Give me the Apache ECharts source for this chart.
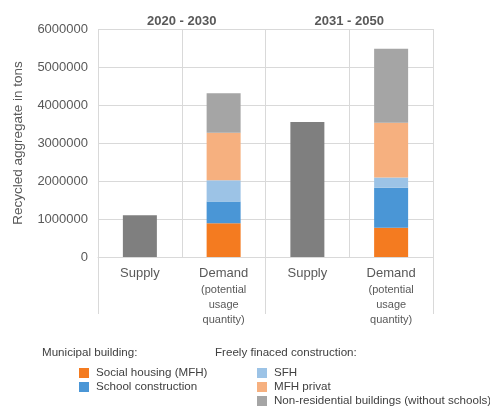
<!DOCTYPE html>
<html>
<head>
<meta charset="utf-8">
<script src="https://cdn.jsdelivr.net/npm/echarts@6/dist/echarts.min.js"></script>
<style>html,body{margin:0;padding:0;background:#fff}#c{width:490px;height:408px}</style>
</head>
<body>
<div id="c"></div>
<script>
const categories = ['Supply', 'Demand', 'Supply', 'Demand'];
const periods = ['2020 - 2030', '2031 - 2050'];
const yTicks = [0, 1000000, 2000000, 3000000, 4000000, 5000000, 6000000];
const supply = [1100000, '-', 3550000, '-'];
const socialHousing = ['-', 890000, '-', 770000];
const schoolConstruction = ['-', 570000, '-', 1050000];
const sfh = ['-', 560000, '-', 270000];
const mfhPrivat = ['-', 1250000, '-', 1440000];
const nonResidential = ['-', 1040000, '-', 1950000];

const font = 'Liberation Sans, Arial, sans-serif';
const grid = '#d9d9d9';
const txt = '#595959';

function bar(name, data, color) {
  return { name, type: 'bar', stack: 's', data, barWidth: 34, itemStyle: { color }, xAxisIndex: 0, yAxisIndex: 0 };
}

const legendText = { fontSize: 11.6, color: '#404040', fontFamily: font, padding: [0, 0, 0, 2] };

const chart = echarts.init(document.getElementById('c'));
chart.setOption({
  animation: false,
  textStyle: { fontFamily: font },
  grid: { left: 98, right: 57, top: 29, bottom: 151 },
  xAxis: [
    {
      type: 'category', data: categories,
      axisLine: { show: true, lineStyle: { color: grid } },
      axisTick: { show: false },
      splitLine: { show: true, lineStyle: { color: grid } },
      axisLabel: {
        interval: 0, margin: 8, color: txt,
        formatter: v => v === 'Demand' ? '{a|Demand}\n{b|(potential}\n{b|usage}\n{b|quantity)}' : '{a|' + v + '}',
        rich: {
          a: { fontSize: 13, color: txt, fontFamily: font, lineHeight: 17 },
          b: { fontSize: 11, color: txt, fontFamily: font, lineHeight: 15 }
        }
      }
    },
    {
      type: 'category', data: periods, position: 'bottom',
      axisLine: { show: false },
      axisTick: { show: true, length: 57, lineStyle: { color: grid } },
      axisLabel: { show: false },
      splitLine: { show: false }
    },
    {
      type: 'category', data: periods, position: 'top',
      axisLine: { show: false },
      axisTick: { show: false },
      axisLabel: { show: true, fontSize: 13, fontWeight: 'bold', color: txt, margin: 1, fontFamily: font },
      splitLine: { show: false }
    }
  ],
  yAxis: {
    type: 'value', min: yTicks[0], max: yTicks[yTicks.length - 1], interval: 1000000,
    name: 'Recycled aggregate in tons', nameLocation: 'middle', nameRotate: 90, nameGap: 73,
    nameTextStyle: { fontSize: 13.5, color: txt, fontFamily: font },
    axisLine: { show: false }, axisTick: { show: false },
    axisLabel: { fontSize: 13, color: txt, margin: 10, fontFamily: font, formatter: v => String(v) },
    splitLine: { lineStyle: { color: grid } }
  },
  legend: [
    {
      data: ['Social housing (MFH)', 'School construction'],
      orient: 'vertical', left: 74, top: 362, height: 60, itemWidth: 10, itemHeight: 10, itemGap: 2,
      icon: 'rect', textStyle: legendText, selectedMode: false
    },
    {
      data: ['SFH', 'MFH privat', 'Non-residential buildings (without schools)'],
      orient: 'vertical', left: 252, top: 362, height: 60, itemWidth: 10, itemHeight: 10, itemGap: 2,
      icon: 'rect', textStyle: legendText, selectedMode: false
    }
  ],
  graphic: [
    { type: 'text', left: 42, top: 347, style: { text: 'Municipal building:', fontSize: 11.6, fill: '#404040', fontFamily: font } },
    { type: 'text', left: 215, top: 347, style: { text: 'Freely finaced construction:', fontSize: 11.6, fill: '#404040', fontFamily: font } }
  ],
  series: [
    bar('Supply', supply, '#7f7f7f'),
    bar('Social housing (MFH)', socialHousing, '#f47b20'),
    bar('School construction', schoolConstruction, '#4a96d6'),
    bar('SFH', sfh, '#9cc3e6'),
    bar('MFH privat', mfhPrivat, '#f6b07f'),
    bar('Non-residential buildings (without schools)', nonResidential, '#a5a5a5')
  ]
});
</script>
</body>
</html>
